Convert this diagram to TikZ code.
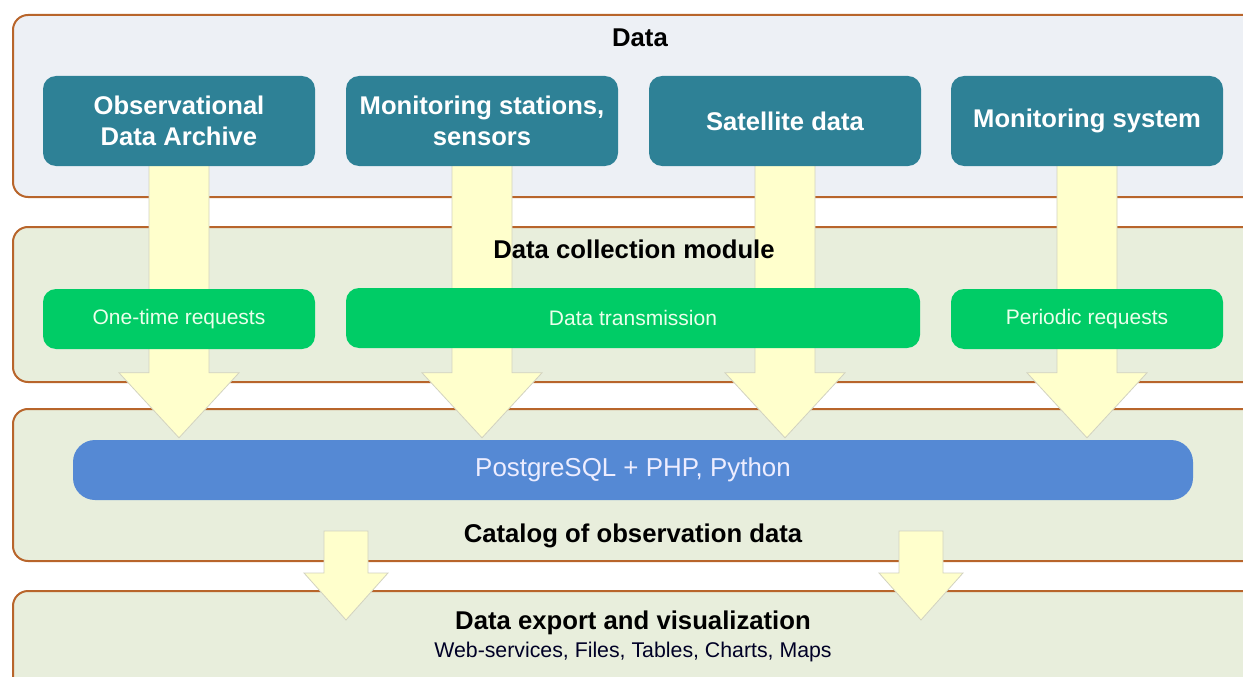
\documentclass[tikz,border=0pt]{standalone}
\usepackage{fontspec}
\setmainfont{Liberation Sans}
\usetikzlibrary{calc}
\definecolor{panelbrd}{HTML}{B8652B}
\definecolor{panelA}{HTML}{EDF0F5}
\definecolor{panelB}{HTML}{E8EEDC}
\definecolor{teal}{HTML}{2E8196}
\definecolor{greenbox}{HTML}{00CC66}
\definecolor{bluebar}{HTML}{5589D4}
\definecolor{arrfill}{HTML}{FFFFCC}
\definecolor{arrbrd}{HTML}{D2D2C0}
\tikzset{
  panel/.style={draw=panelbrd, line width=2pt, rounded corners=15pt},
  srcbox/.style={rectangle, fill=teal, rounded corners=13pt, minimum width=272pt, minimum height=90pt, inner sep=0pt, text=white, align=center, font=\fontsize{25.6}{31}\selectfont\bfseries},
  modbox/.style={rectangle, fill=greenbox, rounded corners=13pt, minimum height=60pt, inner sep=0pt, text=white!92!green, font=\fontsize{21}{25}\selectfont},
  dbbar/.style={rectangle, fill=bluebar, rounded corners=22pt, minimum width=1120pt, minimum height=60pt, inner sep=0pt, text=white!93!blue, font=\fontsize{25.9}{30}\selectfont},
  title/.style={inner sep=0pt, text=black, font=\fontsize{25.7}{30}\selectfont\bfseries},
  subtitle/.style={inner sep=0pt, text=black!85!blue, font=\fontsize{21.3}{25}\selectfont},
  barrow/.style={fill=arrfill, draw=arrbrd, line width=0.8pt, line join=miter},
}
\begin{document}
\begin{tikzpicture}[x=1pt, y=-1pt]
\useasboundingbox (0,0) rectangle (1243,677);
\clip (0,0) rectangle (1243,677);
% panels
\draw[panel, fill=panelA] (13,15) rectangle (1262,197);
\draw[panel, fill=panelB] (13,227) rectangle (1262,382);
\draw[panel, fill=panelB] (13,409) rectangle (1262,561);
\draw[panel, fill=panelB] (13,591) rectangle (1262,710);
% node placeholders for positions
\path (179,121) node[srcbox, opacity=0] (s1) {}
      (482,121) node[srcbox, opacity=0] (s2) {}
      (785,121) node[srcbox, opacity=0] (s3) {}
      (1087,121) node[srcbox, opacity=0] (s4) {};
\path (633,470) node[dbbar, opacity=0] (pg) {};
% big block arrows from sources to database
\foreach \s in {s1,s2,s3,s4}{
  \draw[barrow] let \p1=(\s.south), \p2=(pg.north) in
    (\x1-30pt,\y1+2pt) -- (\x1+30pt,\y1+2pt) -- (\x1+30pt,\y2+67pt) -- (\x1+60pt,\y2+67pt)
    -- (\x1,\y2+2pt) -- (\x1-60pt,\y2+67pt) -- (\x1-30pt,\y2+67pt) -- cycle;
}
% bottom arrows
\coordinate (e1) at (346,531);
\coordinate (e2) at (921,531);
\coordinate (x1) at (346,620);
\coordinate (x2) at (921,620);
\foreach \a/\b in {e1/x1,e2/x2}{
  \draw[barrow] let \p1=(\a), \p2=(\b) in
    (\x1-22pt,\y1) -- (\x1+22pt,\y1) -- (\x1+22pt,\y2+47pt) -- (\x1+42pt,\y2+47pt)
    -- (\x2,\y2) -- (\x1-42pt,\y2+47pt) -- (\x1-22pt,\y2+47pt) -- cycle;
}
% source boxes
\node[srcbox] at (s1) {Observational\\Data Archive};
\node[srcbox] at (s2) {Monitoring stations,\\sensors};
\node[srcbox] at (s3) {Satellite data};
\node[srcbox] at (s4) {Monitoring system};
% module boxes
\node[modbox, minimum width=272pt] (m1) at (179,319) {One-time requests};
\node[modbox, minimum width=574pt] (m2) at (633,318) {Data transmission};
\node[modbox, minimum width=272pt] (m3) at (1087,319) {Periodic requests};
% database bar
\node[dbbar] at (pg) {PostgreSQL + PHP, Python};
% titles
\node[title] (t1) at (640,38) {Data};
\node[title] (t2) at (634,249) {Data collection module};
\node[title] (t3) at (633,536) {Catalog of observation data};
\node[title] (t4) at (633,623) {Data export and visualization};
\node[subtitle] (t5) at (633,652) {Web-services, Files, Tables, Charts, Maps};
\end{tikzpicture}
\end{document}
